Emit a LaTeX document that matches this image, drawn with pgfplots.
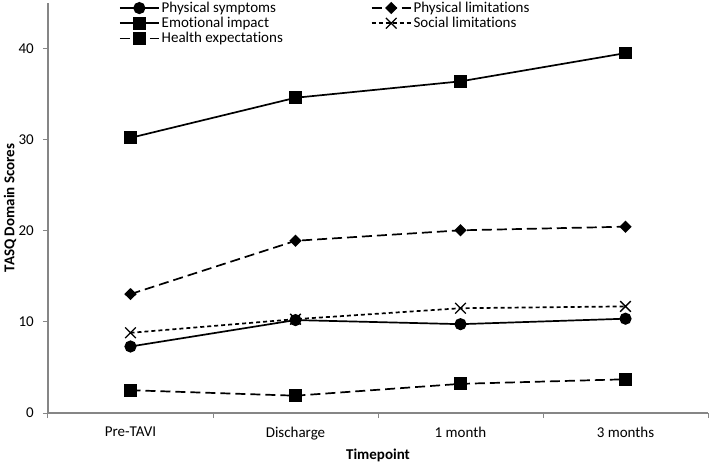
\documentclass[border=0pt]{standalone}
\usepackage{pgfplots}
\pgfplotsset{compat=1.18}
\usepackage{fontspec}
\setmainfont{Carlito}[Ligatures=NoCommon]
\definecolor{axgray}{RGB}{134,134,134}
\newcommand{\fs}{\fontsize{15}{17}\selectfont}
\newcommand{\ti}{t\kern0pt i}
\begin{document}
\fs
\begin{tikzpicture}
\useasboundingbox (0,0) rectangle (709pt,463pt);
\begin{axis}[
  at={(48pt,50pt)}, anchor=south west,
  scale only axis, width=660pt, height=410pt,
  xmin=-0.5, xmax=3.5, ymin=0, ymax=45,
  axis x line*=bottom, axis y line*=left,
  axis line style={axgray, line width=1.2pt},
  tick align=outside,
  major tick length=5pt,
  every tick/.style={axgray, line width=1pt},
  xtick={-0.5,0.5,1.5,2.5,3.5},
  x tick label as interval,
  xticklabels={Pre-TAVI,Discharge,1 month,3 months},
  ytick={0,10,20,30,40},
  /pgf/number format/assume math mode=true,
  tick label style={font=\fs, black},
  xticklabel style={yshift=-4pt},
  yticklabel style={xshift=-4pt},
  xlabel={\bfseries Timepoint},
  ylabel={\bfseries TASQ Domain Scores},
  every axis x label/.style={at={(axis description cs:0.5,-0.1041)}, anchor=center, font=\fs},
  every axis y label/.style={at={(axis description cs:-0.0576,0.5)}, rotate=90, anchor=center, font=\fs},
  legend columns=2,
  legend cell align=left,
  legend style={draw=none, fill=none, at={(axis description cs:0.1076,1.008)}, anchor=north west,
    inner sep=0pt, outer sep=0pt, row sep=-1.5pt, font=\fs,
    /tikz/every even column/.append style={column sep=86pt}},
  legend image code/.code={\draw[mark repeat=2,mark phase=2] plot coordinates {(0pt,0pt)(19.5pt,0pt)(39pt,0pt)};},
  clip=false,
]
\addplot[black, line width=1.7pt, mark=*, mark size=5.2pt, mark options={solid}]
  coordinates {(0,7.3) (1,10.2) (2,9.75) (3,10.35)};
\addlegendentry{Physical symptoms}
\addplot[black, line width=1.7pt, dash pattern=on 10pt off 5pt, mark=diamond*, mark size=4.9pt, mark options={solid, xscale=1.35}]
  coordinates {(0,13.05) (1,18.9) (2,20.05) (3,20.45)};
\addlegendentry{Physical limita\ti ons}
\addplot[black, line width=1.7pt, mark=square*, mark size=5.5pt, mark options={solid}]
  coordinates {(0,30.2) (1,34.6) (2,36.4) (3,39.5)};
\addlegendentry{Emo\ti onal impact}
\addplot[black, line width=1.7pt, dash pattern=on 4pt off 3pt, mark=x, mark size=7.5pt, mark options={solid, line width=1.3pt}]
  coordinates {(0,8.8) (1,10.3) (2,11.5) (3,11.7)};
\addlegendentry{Social limita\ti ons}
\addplot[black, line width=1.7pt, dash pattern=on 10pt off 5pt, mark=square*, mark size=5.5pt, mark options={solid}]
  coordinates {(0,2.5) (1,1.9) (2,3.2) (3,3.7)};
\addlegendentry{Health expecta\ti ons}
\end{axis}
\end{tikzpicture}
\end{document}
